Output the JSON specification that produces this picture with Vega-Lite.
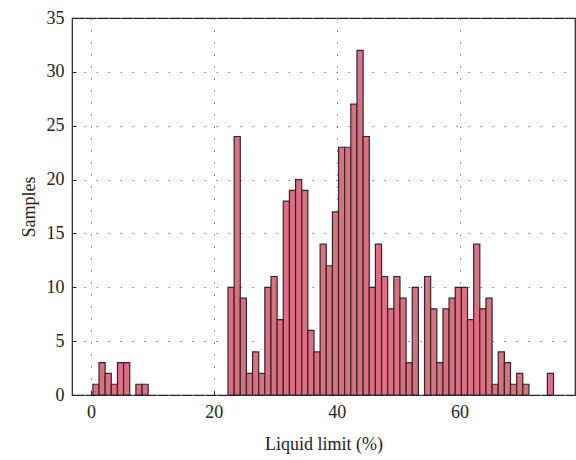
{
  "$schema": "https://vega.github.io/schema/vega-lite/v6.json",
  "width": 503,
  "height": 377,
  "autosize": {"type": "none"},
  "padding": {"left": 72, "top": 18, "right": 1, "bottom": 65},
  "background": "white",
  "config": {
    "font": "Times New Roman",
    "view": {"stroke": "#222", "strokeWidth": 1.2},
    "axis": {
      "labelFont": "Times New Roman",
      "titleFont": "Times New Roman",
      "labelFontSize": 18,
      "titleFontSize": 18,
      "labelColor": "#222",
      "titleColor": "#222",
      "titleFontWeight": "normal",
      "domain": false,
      "tickColor": "#222",
      "tickSize": -4,
      "grid": true,
      "gridColor": "#777",
      "gridDash": [1.5, 10.5],
      "gridWidth": 1
    }
  },
  "data": {
    "values": [
      {"from": 0.3, "to": 1.3, "count": 1},
      {"from": 1.3, "to": 2.3, "count": 3},
      {"from": 2.3, "to": 3.3, "count": 2},
      {"from": 3.3, "to": 4.3, "count": 1},
      {"from": 4.3, "to": 5.3, "count": 3},
      {"from": 5.3, "to": 6.3, "count": 3},
      {"from": 7.3, "to": 8.3, "count": 1},
      {"from": 8.3, "to": 9.3, "count": 1},
      {"from": 22.3, "to": 23.3, "count": 10},
      {"from": 23.3, "to": 24.3, "count": 24},
      {"from": 24.3, "to": 25.3, "count": 9},
      {"from": 25.3, "to": 26.3, "count": 2},
      {"from": 26.3, "to": 27.3, "count": 4},
      {"from": 27.3, "to": 28.3, "count": 2},
      {"from": 28.3, "to": 29.3, "count": 10},
      {"from": 29.3, "to": 30.3, "count": 11},
      {"from": 30.3, "to": 31.3, "count": 7},
      {"from": 31.3, "to": 32.3, "count": 18},
      {"from": 32.3, "to": 33.3, "count": 19},
      {"from": 33.3, "to": 34.3, "count": 20},
      {"from": 34.3, "to": 35.3, "count": 19},
      {"from": 35.3, "to": 36.3, "count": 6},
      {"from": 36.3, "to": 37.3, "count": 4},
      {"from": 37.3, "to": 38.3, "count": 14},
      {"from": 38.3, "to": 39.3, "count": 12},
      {"from": 39.3, "to": 40.3, "count": 17},
      {"from": 40.3, "to": 41.3, "count": 23},
      {"from": 41.3, "to": 42.3, "count": 23},
      {"from": 42.3, "to": 43.3, "count": 27},
      {"from": 43.3, "to": 44.3, "count": 32},
      {"from": 44.3, "to": 45.3, "count": 24},
      {"from": 45.3, "to": 46.3, "count": 10},
      {"from": 46.3, "to": 47.3, "count": 14},
      {"from": 47.3, "to": 48.3, "count": 11},
      {"from": 48.3, "to": 49.3, "count": 8},
      {"from": 49.3, "to": 50.3, "count": 11},
      {"from": 50.3, "to": 51.3, "count": 9},
      {"from": 51.3, "to": 52.3, "count": 3},
      {"from": 52.3, "to": 53.3, "count": 10},
      {"from": 54.3, "to": 55.3, "count": 11},
      {"from": 55.3, "to": 56.3, "count": 8},
      {"from": 56.3, "to": 57.3, "count": 3},
      {"from": 57.3, "to": 58.3, "count": 8},
      {"from": 58.3, "to": 59.3, "count": 9},
      {"from": 59.3, "to": 60.3, "count": 10},
      {"from": 60.3, "to": 61.3, "count": 10},
      {"from": 61.3, "to": 62.3, "count": 7},
      {"from": 62.3, "to": 63.3, "count": 14},
      {"from": 63.3, "to": 64.3, "count": 8},
      {"from": 64.3, "to": 65.3, "count": 9},
      {"from": 65.3, "to": 66.3, "count": 1},
      {"from": 66.3, "to": 67.3, "count": 4},
      {"from": 67.3, "to": 68.3, "count": 3},
      {"from": 68.3, "to": 69.3, "count": 1},
      {"from": 69.3, "to": 70.3, "count": 2},
      {"from": 70.3, "to": 71.3, "count": 1},
      {"from": 74.3, "to": 75.3, "count": 2}
    ]
  },
  "mark": {"type": "bar", "fill": "#DD6F80", "stroke": "#2a2a2a", "strokeWidth": 1.2, "cornerRadius": 0},
  "encoding": {
    "x": {
      "field": "from",
      "type": "quantitative",
      "scale": {"domain": [-3.1, 78.8], "nice": false, "zero": false},
      "axis": {"values": [0, 20, 40, 60], "title": "Liquid limit (%)", "labelPadding": 12, "titlePadding": 14}
    },
    "x2": {"field": "to"},
    "y": {
      "field": "count",
      "type": "quantitative",
      "scale": {"domain": [0, 35], "nice": false},
      "axis": {"values": [0, 5, 10, 15, 20, 25, 30, 35], "title": "Samples", "labelPadding": 12, "titlePadding": 8}
    },
    "y2": {"datum": 0}
  }
}
